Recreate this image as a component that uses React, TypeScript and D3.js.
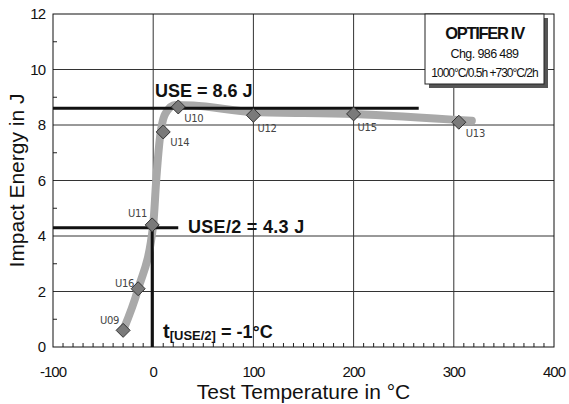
import React from "react";
import * as d3 from "d3";

// Measured Charpy impact energies per specimen
const specimens = ["U09", "U16", "U11", "U14", "U10", "U12", "U15", "U13"];
const temperatures = [-30, -15, -1, 10, 25, 100, 200, 305];
const energies = [0.6, 2.1, 4.4, 7.75, 8.65, 8.35, 8.4, 8.1];

// Fitted transition curve (hand-drawn trend through the data)
const fitTemps = [-30, -15, 0, 3, 6, 12, 22, 40, 100, 200, 318];
const fitEnergies = [0.6, 2.1, 4.4, 6.0, 7.3, 8.4, 8.72, 8.7, 8.47, 8.4, 8.15];

const xTicks = [-100, 0, 100, 200, 300, 400];
const yTicks = [0, 2, 4, 6, 8, 10, 12];

const USE = 8.6;
const halfUSE = 4.3;
const tHalf = -1;

// label offsets for each specimen name [dx, dy, anchor]
const labelPos: Record<string, [number, number, string]> = {
  U09: [-4, -6, "end"],
  U16: [-4, -2, "end"],
  U11: [-5, -8, "end"],
  U14: [7, 14, "start"],
  U10: [6, 15, "start"],
  U12: [4, 17, "start"],
  U15: [4, 17, "start"],
  U13: [7, 15, "start"],
};

export default function App() {
  const W = 569, H = 404;
  const left = 53, right = 554, top = 14, bottom = 347;
  const x = d3.scaleLinear().domain([-100, 400]).range([left, right]);
  const y = d3.scaleLinear().domain([0, 12]).range([bottom, top]);

  const line = d3
    .line<number>()
    .x((_, i) => x(fitTemps[i]))
    .y((d) => y(d))
    .curve(d3.curveMonotoneX);

  const minorX = d3.range(-90, 400, 10).filter((v) => v % 100 !== 0);
  const minorY = d3.range(1, 12, 1).filter((v) => v % 2 !== 0);
  const font = "'Liberation Sans', Arial, sans-serif";

  return (
    <svg width={W} height={H} style={{ position: "absolute", left: 0, top: 0, background: "#fff" }} fontFamily={font}>
      <rect x={0} y={0} width={W} height={H} fill="#fff" />
      {/* grid */}
      {xTicks.slice(1, -1).map((t) => (
        <line key={"gx" + t} x1={x(t)} x2={x(t)} y1={top} y2={bottom} stroke="#333" strokeWidth={1} />
      ))}
      {yTicks.slice(1, -1).map((t) => (
        <line key={"gy" + t} x1={left} x2={right} y1={y(t)} y2={y(t)} stroke="#333" strokeWidth={1} />
      ))}
      {/* minor ticks */}
      {minorX.map((t) => (
        <line key={"mx" + t} x1={x(t)} x2={x(t)} y1={bottom} y2={bottom - 4} stroke="#222" strokeWidth={1} />
      ))}
      {minorY.map((t) => (
        <line key={"my" + t} x1={left} x2={left + 4} y1={y(t)} y2={y(t)} stroke="#222" strokeWidth={1} />
      ))}
      {/* frame */}
      <rect x={left} y={top} width={right - left} height={bottom - top} fill="none" stroke="#111" strokeWidth={1} />

      {/* tick labels */}
      {yTicks.map((t) => (
        <text key={"ly" + t} x={left - 8} y={y(t) + 5} textAnchor="end" fontSize={15} letterSpacing={-1} fill="#111">
          {t}
        </text>
      ))}
      {xTicks.map((t) => (
        <text key={"lx" + t} x={x(t)} y={bottom + 30} textAnchor="middle" fontSize={15} letterSpacing={-1} fill="#111">
          {t}
        </text>
      ))}
      <text x={(left + right) / 2} y={H - 5} textAnchor="middle" fontSize={21} fill="#111">
        Test Temperature in °C
      </text>
      <text
        transform={`translate(24, ${(top + bottom) / 2}) rotate(-90)`}
        textAnchor="middle"
        fontSize={21}
        fill="#111"
      >
        Impact Energy in J
      </text>

      {/* fitted curve */}
      <path d={line(fitEnergies) || ""} fill="none" stroke="#a9a9a9" strokeWidth={8} strokeLinecap="round" />

      {/* USE and USE/2 reference lines */}
      <line x1={left} x2={x(265)} y1={y(USE)} y2={y(USE)} stroke="#111" strokeWidth={3} />
      <line x1={left} x2={x(25)} y1={y(halfUSE)} y2={y(halfUSE)} stroke="#111" strokeWidth={3} />
      <line x1={x(tHalf)} x2={x(tHalf)} y1={y(halfUSE)} y2={bottom} stroke="#111" strokeWidth={3} />

      {/* data points */}
      {specimens.map((s, i) => {
        const cx = x(temperatures[i]);
        const cy = y(energies[i]);
        const r = 7;
        const [dx, dy, anchor] = labelPos[s];
        return (
          <g key={s}>
            <path
              d={`M${cx},${cy - r}L${cx + r},${cy}L${cx},${cy + r}L${cx - r},${cy}Z`}
              fill="#7a7a7a"
              stroke="#333"
              strokeWidth={1}
            />
            <text x={cx + dx} y={cy + dy} textAnchor={anchor as any} fontSize={10} fill="#444" fontFamily="'DejaVu Sans', sans-serif" letterSpacing={-0.3}>
              {s}
            </text>
          </g>
        );
      })}

      {/* annotations */}
      <text x={155} y={y(USE) - 11} fontSize={18} fontWeight="bold" fill="#111">
        USE = {USE} J
      </text>
      <text x={188} y={y(halfUSE) + 5} fontSize={18} fontWeight="bold" fill="#111" letterSpacing={0.3}>
        USE/2 = {halfUSE} J
      </text>
      <text x={163} y={338} fontSize={18} fontWeight="bold" fill="#111">
        <tspan fontSize={20}>t</tspan>
        <tspan fontSize={13} dy={2}>[USE/2]</tspan>
        <tspan dy={-2}> = {tHalf}°C</tspan>
      </text>

      {/* material info box */}
      <rect x={429} y={18} width={119} height={70} fill="#555" />
      <rect x={425} y={14} width={119} height={70} fill="#fff" stroke="#222" strokeWidth={1} />
      <text x={484.5} y={39} textAnchor="middle" fontSize={16.5} fontWeight="bold" letterSpacing={-1.3} fill="#111">
        OPTIFER IV
      </text>
      <text x={484.5} y={58} textAnchor="middle" fontSize={12.5} letterSpacing={-0.6} fill="#111">
        Chg. 986 489
      </text>
      <text x={484.5} y={77} textAnchor="middle" fontSize={12} letterSpacing={-1} fill="#111">
        1000°C/0.5h +730°C/2h
      </text>
    </svg>
  );
}
